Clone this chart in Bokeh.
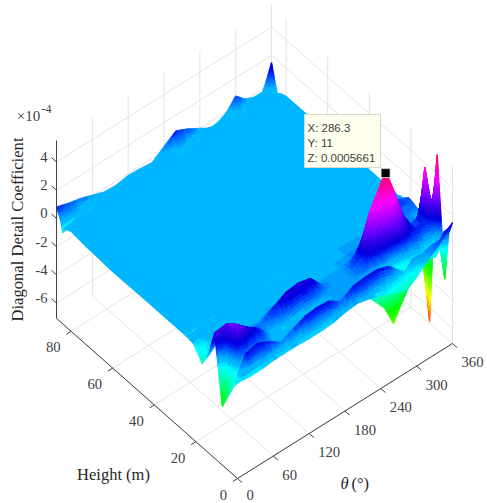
import colorsys
import math
from bokeh.plotting import figure
from bokeh.models import Range1d
from bokeh.embed import file_html
from bokeh.resources import INLINE

# ---- data (z in units of 1e-4) ----
theta_deg = [0, 20, 40, 60, 80, 100, 120, 140, 160, 180, 200, 220, 240, 260, 274, 286.3, 300, 315, 330, 345, 352, 360]
height_m = [0, 1.8, 3.67, 7.33, 11, 14, 17, 21, 24, 25, 26, 30, 45, 60, 75, 80, 83, 84, 85, 87]
z_h00 = [-.3, -.4, -.4, -.3, -.3, -.3, -.35, -.35, -.3, -.1, 0, -.2, -.5, -.8, -1.1, -1.2, -.8, -.2, .3, .8, 1.2, 1.5]
z_h02 = [-.8, 1, 1.2, .8, .2, .6, 1, 1.1, 1, .4, 1, 1.1, 1.1, .8, .2, -.3, .3, .2, .4, .4, .8, .5]
z_h04 = [-1.5, -.2, 0, .1, -.2, .1, .3, .4, .3, .2, .2, -.3, -1.3, -2.4, -3.85, -2.85, -1.9, -.5, -.8, -1, -.5, -3]
z_h07 = [-2.94, 2.4, 1.6, 1, 0, -.3, -.3, -.2, -.1, .1, .2, .3, .5, .9, 1.3, 1.7, 1.7, 1, .8, .8, 1.5, 5.35]
z_h11 = [1.8, 1.9, 1.3, .5, .3, 1, 1.5, 1.6, 1.4, .4, 0, .2, 1, 3.5, 4.6, 5.661, 3.9, 1.8, .6, 1, 4.2, -6.96]
z_h14 = [-.2, .6, .4, .1, 0, .2, .3, .1, 0, 0, .1, .1, .3, .5, .8, 1, .6, .3, .2, .2, -.5, -3.3]
z_h17 = [-1.15, 0, 0, 0, 0, 0, 0, 0, 0, 0, 0, 0, .1, .2, .2, .3, .2, .1, .1, .4, .3, .3]
z_h21 = [-.3, 0, 0, 0, 0, 0, 0, 0, 0, 0, 0, 0, 0, 0, 0, 0, 0, 0, .2, .8, .6, .5]
z_h24 = [-.2, 0, 0, 0, 0, 0, 0, 0, 0, 0, 0, 0, 0, 0, 0, 0, 0, 0, 0, .1, .1, .1]
z_h25 = [-.2, -.42, -.42, -.2, 0, 0, 0, -.42, -.42, 0, 0, 0, 0, 0, 0, 0, 0, 0, 0, .1, .1, .1]
z_h26 = [-.2, 0, 0, 0, 0, 0, 0, 0, 0, 0, 0, 0, 0, 0, 0, 0, 0, 0, 0, 0, 0, 0]
z_h30 = [-.2, 0, 0, 0, 0, 0, 0, 0, 0, 0, 0, 0, 0, 0, 0, 0, 0, 0, 0, 0, 0, 0]
z_h45 = [-.2, 0, 0, 0, 0, 0, 0, 0, 0, 0, 0, 0, 0, 0, 0, 0, 0, 0, 0, 0, 0, 0]
z_h60 = [-.25, 0, 0, 0, 0, 0, 0, 0, 0, 0, 0, 0, 0, 0, 0, 0, 0, 0, 0, 0, 0, 0]
z_h75 = [-.1, 0, 0, 0, 0, 0, 0, 0, 0, 0, 0, 0, 0, 0, 0, 0, 0, 0, 0, 0, 0, 0]
z_h80 = [0, 0, 0, 0, 0, 0, 0, 0, 0, 0, 0, 0, 0, 0, 0, 0, 0, 0, 0, 0, 0, 0]
z_h83 = [-.2, 0, 0, 0, 0, 0, 0, 0, 0, 0, 0, 0, 0, 0, 0, 0, 0, 0, 0, 0, 0, -.2]
z_h84 = [-.6, -.42, -.42, -.2, 0, 0, 0, 0, 0, -.1, -.42, -.42, -.1, 0, -.1, -.42, -.42, -.1, 0, 0, -.2, -.5]
z_h85 = [.1, 0, 0, 0, 0, 0, 0, 0, 0, 0, 0, 0, 0, 0, 0, 0, 0, 0, 0, 0, 0, .1]
z_h87 = [.8, .55, .35, .05, -.25, -.3, -.15, -.2, -.3, .3, .9, .5, 0, -.5, -.3, 0, .7, .1, -.2, -.2, .5, 1.5]
z_rows = [z_h00, z_h02, z_h04, z_h07, z_h11, z_h14, z_h17, z_h21, z_h24, z_h25, z_h26, z_h30, z_h45, z_h60, z_h75,
          z_h80, z_h83, z_h84, z_h85, z_h87]

theta_ticks = [0, 60, 120, 180, 240, 300, 360]
height_ticks = [0, 20, 40, 60, 80]
z_ticks = [-6, -4, -2, 0, 2, 4]
tip_point = (286.3, 11, 5.661)
tip_lines = ["X: 286.3", "Y: 11", "Z: 0.0005661"]

THETA_MAX, H_MAX, Z_MIN, Z_MAX = 360, 87, -7.09, 5.53


def proj(t, h, z):
    return (237 + .5972 * t - 2.08 * h,
            478 - .375 * t - 1.84 * h - 14.1 * (z - Z_MIN))


def colour(z):
    if -.22 < z < .06:
        hue = 199.5
    elif z < 0:
        hue = max(0, 199.5 + 27.7 * z)
    elif z < 1:
        hue = 199.5 + 42 * z
    else:
        hue = min(345, 241.5 + 22.7 * (z - 1))
    level = int(hue / 5.625)
    hue = level * 5.625 / 360
    val = 1 - .13 * math.exp(-((hue * 360 - 245) / 14) ** 2)
    r, g, b = colorsys.hsv_to_rgb(hue, 1, val)
    return "#%02x%02x%02x" % (round(r * 255), round(g * 255), round(b * 255))


W, H = 487, 503
p = figure(width=W, height=H, x_range=Range1d(0, W), y_range=Range1d(H, 0),
           output_backend="svg", toolbar_location=None, min_border=0,
           outline_line_color=None, background_fill_color="white")
p.axis.visible = False
p.grid.visible = False

GRID, AX = "#e4e4e4", "#3f3f3f"


def seg(pts, color=GRID, w=1.0):
    xs = [q[0] for q in pts]
    ys = [q[1] for q in pts]
    p.line(xs, ys, line_color=color, line_width=w)


# grid
for t in theta_ticks:
    seg([proj(t, 0, Z_MIN), proj(t, H_MAX, Z_MIN)])
    if t > 0:
        seg([proj(t, H_MAX, Z_MIN), proj(t, H_MAX, Z_MAX)])
for h in height_ticks:
    seg([proj(0, h, Z_MIN), proj(THETA_MAX, h, Z_MIN)])
    seg([proj(THETA_MAX, h, Z_MIN), proj(THETA_MAX, h, Z_MAX)])
for z in z_ticks:
    seg([proj(0, H_MAX, z), proj(THETA_MAX, H_MAX, z), proj(THETA_MAX, 0, z)])

# surface, painted from the far corner to the near one
xs, ys, cs = [], [], []
nt, nh = len(theta_deg), len(height_m)
for i in range(nt - 2, -1, -1):
    for j in range(nh - 2, -1, -1):
        z00, z10 = z_rows[j][i], z_rows[j][i + 1]
        z01, z11 = z_rows[j + 1][i], z_rows[j + 1][i + 1]
        nu = min(14, max(1, math.ceil(max(abs(z10 - z00), abs(z11 - z01)) / .2)))
        nv = min(26, max(1, math.ceil(max(abs(z01 - z00), abs(z11 - z10)) / .2)))
        for a in range(nu - 1, -1, -1):
            for b in range(nv - 1, -1, -1):
                us = [a / nu, (a + 1) / nu, (a + 1) / nu, a / nu]
                vs = [b / nv, b / nv, (b + 1) / nv, (b + 1) / nv]
                px, py, zs = [], [], []
                for u, v in zip(us, vs):
                    zv = (z00 * (1 - u) + z10 * u) * (1 - v) + (z01 * (1 - u) + z11 * u) * v
                    tv = theta_deg[i] + u * (theta_deg[i + 1] - theta_deg[i])
                    hv = height_m[j] + v * (height_m[j + 1] - height_m[j])
                    X, Y = proj(tv, hv, zv)
                    px.append(X)
                    py.append(Y)
                    zs.append(zv)
                xs.append(px)
                ys.append(py)
                cs.append(colour(sum(zs) / 4))
p.patches(xs, ys, fill_color=cs, line_color=cs, fill_alpha=1.0, line_alpha=1.0, line_width=1.2)

# axes
seg([proj(0, H_MAX, Z_MAX), proj(0, H_MAX, Z_MIN), proj(0, 0, Z_MIN), proj(THETA_MAX, 0, Z_MIN)], AX, 1.0)
for z in z_ticks:
    seg([proj(0, H_MAX, z), proj(0, H_MAX + 2.4, z)], AX, 1.0)
for h in height_ticks:
    seg([proj(0, h, Z_MIN), proj(-8, h, Z_MIN)], AX, 1.0)
for t in theta_ticks:
    seg([proj(t, 0, Z_MIN), proj(t, -2.2, Z_MIN)], AX, 1.0)

SERIF = "Liberation Serif"
SANS = "Liberation Sans"


def label(x, y, s, size=14.7, align="center", color="#404040", font=SERIF, style="normal", angle=0):
    p.text([x], [y], text=[s], text_font_size="%gpx" % size, text_align=align,
           text_baseline="middle", text_color=color, text_font_style=style, angle=angle,
           **{"text_font": {"value": font}})


for z in z_ticks:
    X, Y = proj(0, H_MAX, z)
    label(X - 9, Y - 5, str(z), align="right")
for h in height_ticks:
    X, Y = proj(0, h, Z_MIN)
    label(X - 10.5, Y + 16, str(h), align="right")
for t in theta_ticks:
    X, Y = proj(t, 0, Z_MIN)
    label(X + 9, Y + (16 if t == 0 else 18.5), str(t), align="left")

label(28, 115, "×10", size=15)
label(46, 108, "-4", size=12)
label(113, 474, "Height (m)", size=16.5, color="#262626")
label(344, 483, "θ", size=16.5, color="#262626", style="italic")
label(351, 483, "(°)", size=16.5, color="#262626", align="left")
label(17, 229, "Diagonal Detail Coefficient", size=16.6, color="#262626", angle=math.pi / 2)

# data tip
X, Y = proj(*tip_point)
p.quad(left=[304], right=[380], top=[114], bottom=[167], fill_color="#ffffee", line_color="#d8d8d0", line_width=1)
for k, s in enumerate(tip_lines):
    label(307, 127 + 15 * k, s, size=11.5, align="left", font=SANS)
p.scatter([X], [Y + 2], marker="square", size=9, fill_color="black", line_color="#e8e8d8", line_width=.8)

open("out.html", "w").write(file_html(p, INLINE))
